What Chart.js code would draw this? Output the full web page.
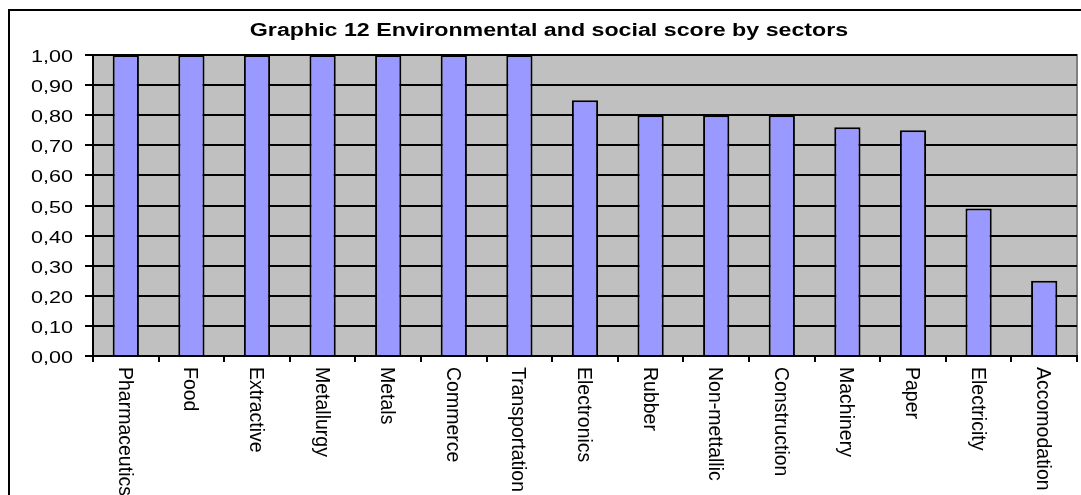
<!DOCTYPE html>
<html>
<head>
<meta charset="utf-8">
<title>Environmental and social score by sectors</title>
<script src="https://cdn.jsdelivr.net/npm/chart.js@4/dist/chart.umd.min.js"></script>
<style>
  html, body { margin: 0; padding: 0; background: #ffffff; }
  #wrap { width: 1081px; height: 495px; }
</style>
</head>
<body>
<div id="wrap"><canvas id="chart" width="1081" height="495"></canvas></div>
<script>
// Sector names along the category axis
const sectors = [
  'Pharmaceutics', 'Food', 'Extractive', 'Metallurgy', 'Metals', 'Commerce',
  'Transportation', 'Electronics', 'Rubber', 'Non-mettallic', 'Construction',
  'Machinery', 'Paper', 'Electricity', 'Accomodation'
];

// Environmental and social score of each sector
const scores = [1.00, 1.00, 1.00, 1.00, 1.00, 1.00, 1.00, 0.85, 0.80, 0.80, 0.80, 0.76, 0.75, 0.49, 0.25];

// Value axis ticks and their printed labels (comma decimals)
const yTickValues = [0, 0.1, 0.2, 0.3, 0.4, 0.5, 0.6, 0.7, 0.8, 0.9, 1.0];
const yTickLabels = ['0,00', '0,10', '0,20', '0,30', '0,40', '0,50', '0,60', '0,70', '0,80', '0,90', '1,00'];

const chartTitle = 'Graphic 12 Environmental and social score by sectors';

const FONT = '"Liberation Sans", Arial, Helvetica, sans-serif';

// Frame, plot background and plot border
const framePlugin = {
  id: 'frame',
  beforeDraw(chart) {
    const { ctx, chartArea: a, width, height } = chart;
    ctx.save();
    ctx.fillStyle = '#ffffff';
    ctx.fillRect(0, 0, width, height);
    // outer chart border
    ctx.strokeStyle = '#000000';
    ctx.lineWidth = 2;
    ctx.beginPath();
    ctx.moveTo(9, height + 2);
    ctx.lineTo(9, 10);
    ctx.lineTo(width + 2, 10);
    ctx.stroke();
    // plot area
    ctx.fillStyle = '#c0c0c0';
    ctx.fillRect(a.left, a.top, a.right - a.left, a.bottom - a.top);
    ctx.strokeStyle = '#808080';
    ctx.lineWidth = 2;
    ctx.beginPath();
    ctx.moveTo(a.left, a.top);
    ctx.lineTo(a.right, a.top);
    ctx.lineTo(a.right, a.bottom);
    ctx.stroke();
    ctx.restore();
  }
};

// Title and axis labels, set in a horizontally widened Arial-style face
const textPlugin = {
  id: 'labels',
  afterDraw(chart) {
    const { ctx, chartArea: a } = chart;
    const xs = chart.scales.x;
    const ys = chart.scales.y;
    ctx.save();
    ctx.fillStyle = '#000000';

    // title
    ctx.save();
    ctx.font = 'bold 17.5px ' + FONT;
    ctx.textAlign = 'center';
    ctx.textBaseline = 'alphabetic';
    ctx.translate(549, 36);
    ctx.scale(1.326, 1);
    ctx.fillText(chartTitle, 0, 0);
    ctx.restore();

    // value axis labels
    ctx.font = '17px ' + FONT;
    ys.ticks.forEach((t, i) => {
      const y = ys.getPixelForValue(t.value);
      ctx.save();
      ctx.translate(a.left - 20, y + 7);
      ctx.scale(1.27, 1);
      ctx.textAlign = 'right';
      ctx.textBaseline = 'alphabetic';
      ctx.fillText(yTickLabels[i], 0, 0);
      ctx.restore();
    });

    // category labels, running downwards
    ctx.font = '19.5px ' + FONT;
    sectors.forEach((name, i) => {
      const x = xs.getPixelForValue(i);
      ctx.save();
      ctx.translate(x, a.bottom + 11);
      ctx.rotate(Math.PI / 2);
      ctx.textAlign = 'left';
      ctx.textBaseline = 'alphabetic';
      ctx.fillText(name, 0, 7);
      ctx.restore();
    });
    ctx.restore();
  }
};

new Chart(document.getElementById('chart'), {
  type: 'bar',
  data: {
    labels: sectors,
    datasets: [{
      label: 'Score',
      data: scores,
      backgroundColor: '#9999ff',
      borderColor: '#000000',
      borderWidth: 2,
      barPercentage: 0.4,
      categoryPercentage: 1.0
    }]
  },
  options: {
    responsive: false,
    animation: false,
    devicePixelRatio: 1,
    layout: { padding: { top: 55, right: 4, left: 0, bottom: 0 } },
    plugins: {
      legend: { display: false },
      title: { display: false },
      tooltip: { enabled: false }
    },
    scales: {
      x: {
        type: 'category',
        offset: true,
        grid: {
          offset: true,
          drawOnChartArea: false,
          drawTicks: true,
          tickLength: 6,
          color: '#000000',
          lineWidth: 2
        },
        border: { color: '#000000', width: 2 },
        ticks: { display: false },
        afterFit(scale) { scale.height = 139; }
      },
      y: {
        min: 0,
        max: 1,
        grid: {
          color: '#000000',
          lineWidth: 2,
          drawTicks: true,
          tickLength: 8,
          tickColor: '#000000'
        },
        border: { color: '#000000', width: 2 },
        ticks: { display: false },
        afterBuildTicks(scale) {
          scale.ticks = yTickValues.map(v => ({ value: v }));
        },
        afterFit(scale) { scale.width = 93; }
      }
    }
  },
  plugins: [framePlugin, textPlugin]
});
</script>
</body>
</html>
